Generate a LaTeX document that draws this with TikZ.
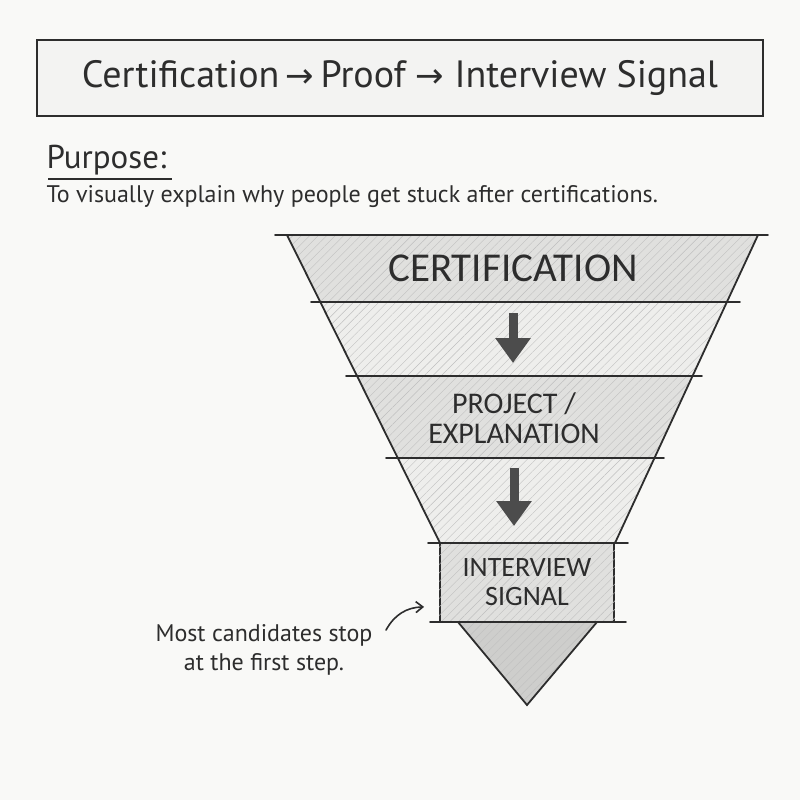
\documentclass[tikz,border=0pt]{standalone}
\usepackage{fontspec}
\setmainfont{Carlito}
\newfontfamily\handfont{PT Sans}
\newfontfamily\arrowfont{DejaVu Sans}
\usepackage{tikz}
\usetikzlibrary{calc}
\usetikzlibrary{arrows.meta}
\usetikzlibrary{patterns.meta}
\usetikzlibrary{positioning}
\definecolor{graphite}{RGB}{45, 45, 45}
\definecolor{pencil}{RGB}{95, 95, 95}
\definecolor{paper}{RGB}{249, 249, 247}
\definecolor{smudge}{RGB}{224, 224, 222}
\definecolor{haze}{RGB}{238, 238, 236}
\newcommand{\titlearrow}{{\arrowfont\fontsize{34}{34}\selectfont\char"2192}}

\tikzset{
  hatch/.style={pattern={Lines[angle=45,distance=6pt,line width=0.4pt]}, pattern color=pencil!40},
  rule/.style={draw=graphite, line width=1.8pt, line cap=round},
  stagetext/.style={text=graphite, align=center},
  stagebox/.style={draw=graphite, line width=1.8pt, fill=smudge, inner sep=0pt},
  downarrow/.style={draw=graphite!85, line width=9pt, -{Triangle[width=34pt,length=25pt]}},
  notearrow/.style={draw=graphite, line width=1.6pt, line cap=round, -{Straight Barb[length=7pt,width=11pt]}},
}

\begin{document}
\begin{tikzpicture}[x=1pt, y=-1pt]
            \fill[paper] (0,0) rectangle (800,800);
            \node[draw=graphite, line width=1.8pt, fill=haze!70, minimum width=726, minimum height=76, text=graphite,
                 font=\handfont\fontsize{38}{44}\selectfont]
                 (title) at (400,78) {Certification\,\titlearrow\,Proof \titlearrow\ Interview Signal};
            \node[anchor=west, text=graphite, font=\handfont\fontsize{33}{38}\selectfont] (purpose) at (43,160) {Purpose:};
            \draw[draw=graphite, line width=1.2pt] (48,179) -- (172,179);
            \node[anchor=west, text=graphite, font=\handfont\fontsize{24}{28}\selectfont] (aim) at (43,197)
                 {To visually explain why people get stuck after certifications.};
            \filldraw[fill=smudge, draw=none]  (287,235) -- (758,235) -- (726.9,302) -- (320.3,302) -- cycle;
            \filldraw[fill=haze,   draw=none]  (320.3,302) -- (726.9,302) -- (692.6,376) -- (357.1,376) -- cycle;
            \filldraw[fill=smudge, draw=none]  (357.1,376) -- (692.6,376) -- (654.5,458) -- (397.8,458) -- cycle;
            \filldraw[fill=haze,   draw=none]  (397.8,458) -- (654.5,458) -- (615,543) -- (440,543) -- cycle;
            \filldraw[fill=smudge!92!black, draw=none] (458,622) -- (597,622) -- (527,705) -- cycle;
            \fill[hatch] (287,235) -- (758,235) -- (615,543) -- (440,543) -- cycle;
            \fill[hatch] (458,622) -- (597,622) -- (527,705) -- cycle;
            \draw[rule] (287,235) -- (440,543);
            \draw[rule] (758,235) -- (615,543);
            \draw[rule] (275,235) -- (768,235);
            \draw[rule] (311,302) -- (740,302);
            \draw[rule] (346,376) -- (702,376);
            \draw[rule] (386,458) -- (664,458);
            \draw[rule] (458,622) -- (527,705) -- (597,622);
            \node[stagebox, minimum width=174, minimum height=79] (signal) at (527,582.5) {};
            \fill[hatch] (signal.south west) rectangle (signal.north east);
            \draw[rule] (428,543) -- (628,543);
            \draw[rule] (430,622) -- (626,622);
            \node[stagetext, font=\fontsize{41}{44}\selectfont] (cert) at (513,268) {CERTIFICATION};
            \node[stagetext, font=\fontsize{30}{30}\selectfont] (proj) at (514,418) {PROJECT /\\EXPLANATION};
            \node[stagetext, font=\fontsize{28}{29}\selectfont] (stop) at (signal) {INTERVIEW\\SIGNAL};
            \draw[downarrow] ([yshift=-45pt]cert.center) -- ([yshift=-95pt]cert.center);
            \draw[downarrow] ([yshift=-50pt]proj.center) -- ([yshift=-108pt]proj.center);
            \node[stagetext, font=\handfont\fontsize{24}{29}\selectfont] (note) at (264,650) {Most candidates stop\\at the first step.};
            \draw[notearrow] ([xshift=10pt,yshift=-9pt]note.north east) to[bend left=30] ([xshift=-15pt,yshift=16pt]signal.south west);
        \end{tikzpicture}
\end{document}
